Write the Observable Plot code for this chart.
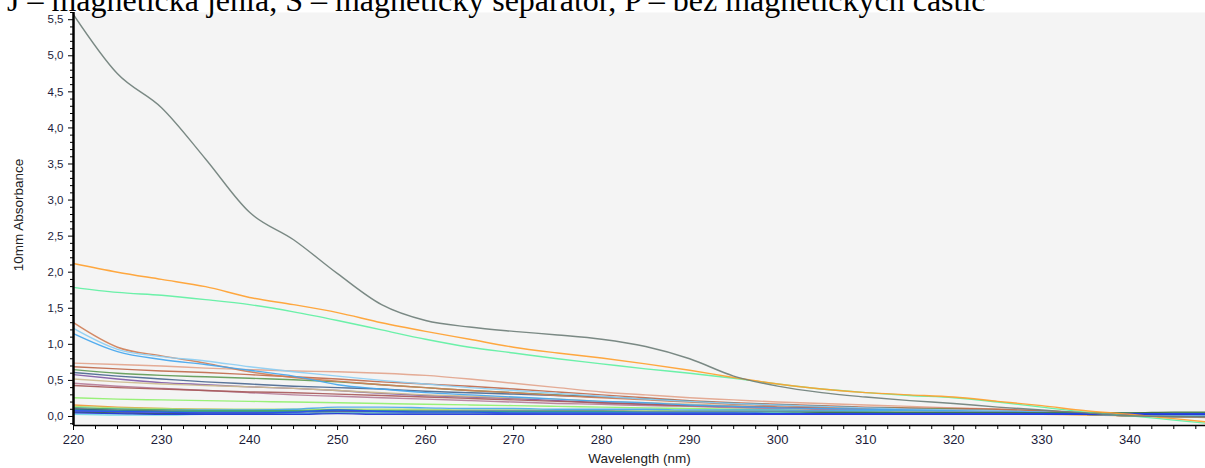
<!DOCTYPE html>
<html><head><meta charset="utf-8">
<script src="https://cdn.jsdelivr.net/npm/d3@7"></script>
<script src="https://cdn.jsdelivr.net/npm/@observablehq/plot@0.6"></script>
<style>
html,body{margin:0;padding:0;background:#fff;overflow:hidden;width:1205px;height:468px;}
#title{position:absolute;left:7px;top:-18px;font-family:"Liberation Serif",serif;font-size:32px;line-height:36px;white-space:nowrap;color:#000;}
#chart{position:absolute;left:0;top:0;}
</style></head><body>
<div id="chart"></div>
<div id="title">J – magnetická jehla, S – magnetický separátor, P – bez magnetických částic</div>
<script>
// wavelengths (nm)
const wavelengths = [220,225,230,235,240,245,250,255,260,265,270,275,280,285,290,295,300,305,310,315,320,325,330,335,340,345,350];

// absorbance series (10 mm)
const sGray     = [5.57,4.75,4.28,3.57,2.83,2.45,1.98,1.55,1.33,1.24,1.18,1.13,1.07,0.97,0.80,0.56,0.42,0.33,0.27,0.22,0.18,0.13,0.09,0.05,0.01,0.00,-0.01];
const sOrange   = [2.12,2.00,1.90,1.80,1.65,1.55,1.44,1.30,1.18,1.07,0.96,0.88,0.81,0.73,0.64,0.54,0.45,0.38,0.33,0.30,0.27,0.21,0.15,0.08,0.03,-0.03,-0.09];
const sSpring   = [1.79,1.72,1.68,1.62,1.55,1.45,1.33,1.20,1.07,0.96,0.88,0.80,0.73,0.66,0.60,0.53,0.45,0.38,0.33,0.29,0.26,0.20,0.13,0.06,0.01,-0.05,-0.11];
const sChoc     = [1.30,0.96,0.84,0.74,0.62,0.54,0.49,0.44,0.40,0.36,0.33,0.29,0.26,0.23,0.20,0.17,0.15,0.13,0.11,0.10,0.09,0.07,0.06,0.03,0.01,0.00,-0.01];
const sLightBlue= [1.22,0.93,0.83,0.77,0.69,0.62,0.56,0.50,0.45,0.40,0.36,0.32,0.28,0.24,0.21,0.18,0.16,0.14,0.12,0.10,0.09,0.08,0.06,0.04,0.01,0.00,0.00];
const sDodger   = [1.15,0.90,0.79,0.72,0.64,0.56,0.44,0.38,0.33,0.30,0.27,0.24,0.21,0.19,0.16,0.14,0.12,0.11,0.10,0.09,0.08,0.06,0.05,0.03,0.01,0.00,0.00];
const sSalmon   = [0.74,0.72,0.70,0.67,0.65,0.63,0.62,0.60,0.57,0.52,0.46,0.40,0.34,0.30,0.26,0.23,0.20,0.18,0.16,0.14,0.12,0.10,0.08,0.05,0.02,0.00,-0.02];
const sSienna   = [0.69,0.66,0.63,0.61,0.58,0.55,0.52,0.48,0.45,0.42,0.38,0.34,0.30,0.26,0.22,0.19,0.17,0.15,0.13,0.12,0.11,0.10,0.08,0.05,0.02,0.00,-0.01];
const sOlive    = [0.65,0.60,0.57,0.55,0.53,0.51,0.48,0.44,0.40,0.36,0.33,0.30,0.27,0.24,0.21,0.18,0.16,0.14,0.12,0.11,0.10,0.08,0.06,0.04,0.01,0.00,0.00];
const sSlate    = [0.61,0.56,0.52,0.48,0.45,0.42,0.40,0.38,0.35,0.33,0.31,0.29,0.27,0.24,0.21,0.18,0.16,0.14,0.12,0.10,0.09,0.07,0.05,0.03,0.01,0.00,0.00];
const sPurple   = [0.58,0.52,0.47,0.44,0.41,0.39,0.36,0.32,0.29,0.27,0.25,0.22,0.19,0.17,0.15,0.13,0.12,0.10,0.09,0.08,0.07,0.06,0.05,0.03,0.01,0.00,0.00];
const sTan      = [0.52,0.48,0.45,0.43,0.41,0.39,0.36,0.33,0.30,0.28,0.26,0.24,0.21,0.19,0.17,0.15,0.13,0.11,0.10,0.09,0.08,0.07,0.05,0.03,0.01,0.00,0.00];
const sMauve    = [0.46,0.42,0.39,0.36,0.33,0.30,0.28,0.26,0.24,0.22,0.20,0.18,0.17,0.15,0.14,0.12,0.11,0.10,0.09,0.08,0.07,0.06,0.05,0.03,0.01,0.00,0.00];
const sRose     = [0.43,0.40,0.38,0.36,0.34,0.33,0.31,0.29,0.27,0.25,0.23,0.21,0.19,0.17,0.15,0.14,0.13,0.12,0.11,0.10,0.09,0.08,0.06,0.04,0.02,0.01,0.00];
const sLime     = [0.26,0.24,0.23,0.22,0.21,0.20,0.19,0.18,0.17,0.16,0.15,0.14,0.13,0.12,0.11,0.10,0.09,0.08,0.08,0.07,0.06,0.05,0.04,0.03,0.01,0.00,0.00];
const sOrange2  = [0.16,0.13,0.11,0.10,0.09,0.08,0.08,0.07,0.07,0.07,0.06,0.06,0.06,0.06,0.05,0.05,0.05,0.05,0.05,0.04,0.04,0.04,0.03,0.02,0.01,0.00,-0.01];
const sLime2    = [0.14,0.12,0.11,0.10,0.10,0.10,0.10,0.10,0.10,0.09,0.09,0.09,0.09,0.09,0.08,0.08,0.08,0.07,0.07,0.07,0.06,0.06,0.05,0.04,0.02,0.01,0.00];
const sSky      = [0.12,0.10,0.09,0.09,0.09,0.10,0.13,0.13,0.12,0.11,0.11,0.10,0.10,0.10,0.09,0.09,0.09,0.08,0.08,0.08,0.07,0.07,0.06,0.04,0.02,0.01,0.00];
const sGreen    = [0.12,0.10,0.09,0.08,0.08,0.08,0.09,0.08,0.08,0.07,0.07,0.07,0.07,0.06,0.06,0.06,0.06,0.05,0.05,0.05,0.05,0.05,0.04,0.03,0.02,0.04,0.05];
const sGray2    = [0.11,0.09,0.08,0.07,0.07,0.07,0.08,0.08,0.08,0.08,0.08,0.08,0.08,0.07,0.07,0.07,0.07,0.07,0.06,0.06,0.06,0.06,0.05,0.04,0.03,0.03,0.03];
const sNavy     = [0.10,0.08,0.07,0.06,0.06,0.06,0.07,0.07,0.06,0.06,0.06,0.06,0.05,0.05,0.05,0.05,0.05,0.05,0.05,0.05,0.05,0.05,0.04,0.03,0.02,0.01,0.01];
const sTeal     = [0.09,0.08,0.07,0.07,0.07,0.07,0.08,0.08,0.07,0.07,0.07,0.07,0.07,0.06,0.06,0.06,0.06,0.06,0.06,0.05,0.05,0.05,0.05,0.05,0.05,0.05,0.05];
const sViolet   = [0.07,0.06,0.05,0.05,0.05,0.05,0.06,0.06,0.05,0.05,0.04,0.05,0.05,0.05,0.04,0.04,0.04,0.04,0.04,0.04,0.04,0.04,0.03,0.03,0.02,0.02,0.02];
const sDkGreen  = [0.06,0.05,0.04,0.04,0.04,0.04,0.05,0.05,0.05,0.05,0.05,0.05,0.05,0.05,0.05,0.05,0.05,0.05,0.05,0.05,0.05,0.05,0.05,0.05,0.05,0.06,0.06];
const sCyan     = [0.03,0.02,0.02,0.03,0.03,0.04,0.05,0.05,0.05,0.05,0.05,0.05,0.05,0.05,0.05,0.05,0.05,0.04,0.04,0.04,0.04,0.04,0.03,0.03,0.02,0.02,0.02];
const sBlue     = [0.08,0.07,0.06,0.05,0.05,0.06,0.09,0.07,0.06,0.06,0.05,0.05,0.05,0.05,0.05,0.05,0.04,0.04,0.04,0.04,0.04,0.04,0.04,0.04,0.04,0.04,0.04];
const sDeepBlue = [0.05,0.04,0.03,0.03,0.03,0.03,0.04,0.03,0.03,0.03,0.03,0.03,0.03,0.03,0.03,0.03,0.03,0.03,0.03,0.03,0.03,0.03,0.03,0.03,0.03,0.03,0.03];

const seriesList = [
  ["Salmon", sSalmon], ["Sienna", sSienna], ["Olive", sOlive], ["Slate", sSlate], ["Purple", sPurple],
  ["Tan", sTan], ["Mauve", sMauve], ["Rose", sRose], ["Lime", sLime],
  ["Chocolate", sChoc], ["LightBlue", sLightBlue], ["Dodger", sDodger],
  ["Orange2", sOrange2], ["Lime2", sLime2], ["Sky", sSky], ["Green", sGreen], ["Gray2", sGray2],
  ["Navy", sNavy], ["Teal", sTeal], ["Violet", sViolet], ["DkGreen", sDkGreen], ["Cyan", sCyan],
  ["Blue", sBlue], ["DeepBlue", sDeepBlue],
  ["Spring", sSpring], ["Orange", sOrange], ["Gray", sGray]
];
const seriesColors = {
  Gray: "#6f7f7a", Orange: "#ff9f2e", Spring: "#5ef0a2", Chocolate: "#cf7f58", LightBlue: "#8ccdf2",
  Dodger: "#44a6ee", Salmon: "#e2a48c", Sienna: "#c06a4c", Olive: "#5f9a55", Slate: "#4b6890",
  Purple: "#7f5aa6", Tan: "#cdbb8e", Mauve: "#b57c98", Rose: "#a85a5a", Lime: "#8ff06c",
  Orange2: "#f09638", Lime2: "#a8e070", Sky: "#4aa8e8", Green: "#3cb050", Gray2: "#8a9098",
  Navy: "#2a3270", Teal: "#30a098", Violet: "#8050d0", DkGreen: "#3f7040", Cyan: "#70d8e8",
  Blue: "#2a4ff0", DeepBlue: "#1e32d8"
};

// axis ticks
const xTicks = [220,230,240,250,260,270,280,290,300,310,320,330,340];
const xMinor = [222.5,225,227.5,232.5,235,237.5,242.5,245,247.5,252.5,255,257.5,262.5,265,267.5,272.5,275,277.5,282.5,285,287.5,292.5,295,297.5,302.5,305,307.5,312.5,315,317.5,322.5,325,327.5,332.5,335,337.5,342.5,345,347.5];
const yTicks = [0,0.5,1,1.5,2,2.5,3,3.5,4,4.5,5,5.5];
const yMinor = [-0.1,0.1,0.2,0.3,0.4,0.6,0.7,0.8,0.9,1.1,1.2,1.3,1.4,1.6,1.7,1.8,1.9,2.1,2.2,2.3,2.4,2.6,2.7,2.8,2.9,3.1,3.2,3.3,3.4,3.6,3.7,3.8,3.9,4.1,4.2,4.3,4.4,4.6,4.7,4.8,4.9,5.1,5.2,5.3,5.4,5.6];

const rows = [];
for (const [name, vals] of seriesList) {
  vals.forEach((v, i) => rows.push({series: name, wl: wavelengths[i], abs: v}));
}

const xMin = 220, xMax = 348.6, yMin = -0.125, yMax = 5.6;

const chart = Plot.plot({
  width: 1205,
  height: 468,
  marginLeft: 73,
  marginRight: 0,
  marginTop: 12,
  marginBottom: 43,
  style: {fontFamily: "'Liberation Sans', Arial, sans-serif", fontSize: "11px", background: "#fff"},
  x: {domain: [xMin, xMax]},
  y: {domain: [yMin, yMax]},
  marks: [
    Plot.frame({fill: "#f4f4f4", stroke: null}),
    Plot.line(rows, {x: "wl", y: "abs", z: "series", stroke: d => seriesColors[d.series], strokeWidth: 1.4, strokeOpacity: 0.92, curve: "monotone-x", clip: true}),
    Plot.axisY(yTicks, {tickSize: 5, tickPadding: 5, tickFormat: d => d.toFixed(1).replace(".", ","), label: null, fill: "#1c1c3a", stroke: "#000", fontSize: 11.5}),
    Plot.axisY(yMinor, {tickSize: 3, tickFormat: () => "", label: null, stroke: "#000"}),
    Plot.axisX(xTicks, {tickSize: 5, tickPadding: 4, tickFormat: d => String(d), label: null, fill: "#1c1c3a", stroke: "#000", fontSize: 13}),
    Plot.axisX(xMinor, {tickSize: 4, tickFormat: () => "", label: null, stroke: "#000"}),
    Plot.ruleX([xMin], {stroke: "#000", strokeWidth: 2.5}),
    Plot.ruleY([yMin], {stroke: "#000", strokeWidth: 1.5}),
    Plot.text(["10mm Absorbance"], {text: d => d, frameAnchor: "left", textAnchor: "middle", dx: -55, dy: -4, rotate: -90, fontSize: 13.5, fill: "#222"}),
    Plot.text(["Wavelength (nm)"], {text: d => d, frameAnchor: "bottom", textAnchor: "middle", dy: 37, fontSize: 13.5, fill: "#222"})
  ]
});
document.getElementById("chart").appendChild(chart);
</script></body></html>
